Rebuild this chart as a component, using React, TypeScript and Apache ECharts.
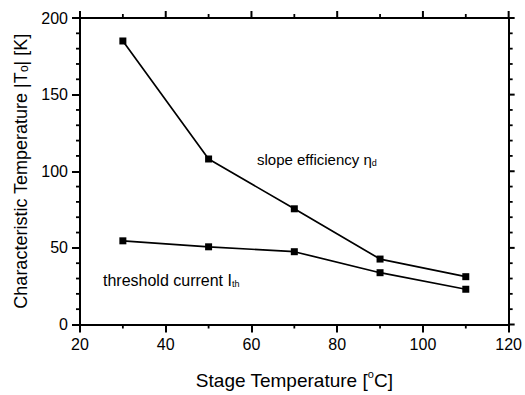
import React, { useEffect, useRef } from "react";
import * as echarts from "echarts";

const stageTemps = [30, 50, 70, 90, 110];
const slopeEfficiencyT0 = [185, 108, 75.5, 42.7, 31.2];
const thresholdCurrentT0 = [54.6, 50.7, 47.5, 33.8, 23];

const X_MIN = 20;
const X_MAX = 120;
const Y_MIN = 0;
const Y_MAX = 200;
const xMajorTicks = [20, 40, 60, 80, 100, 120];
const xMinorTicks = [30, 50, 70, 90, 110];
const yMajorTicks = [0, 50, 100, 150, 200];
const yMinorTicks = [10, 20, 30, 40, 60, 70, 80, 90, 110, 120, 130, 140, 160, 170, 180, 190];

const FONT = "'Liberation Sans', Arial, Helvetica, sans-serif";

export default function App() {
  const ref = useRef<HTMLDivElement>(null);
  useEffect(() => {
    if (!ref.current) return;
    const chart = echarts.init(ref.current, null, { renderer: "svg" });
    const axisLine = { show: true, onZero: false, lineStyle: { color: "#000", width: 2 } };
    const mk = (vals: number[]) => stageTemps.map((x, i) => [x, vals[i]]);
    const lineSeries = (name: string, vals: number[]) => ({
      name,
      type: "line",
      xAxisIndex: 0,
      yAxisIndex: 0,
      data: mk(vals),
      symbol: "rect",
      symbolSize: 7,
      lineStyle: { color: "#000", width: 1.7 },
      itemStyle: { color: "#000" },
      z: 5,
    });
    const annotations = [
      {
        type: "text",
        left: 257,
        top: 152,
        style: {
          text: "slope efficiency η{sub|d}",
          fill: "#000",
          font: `15px ${FONT}`,
          rich: {
            sub: { fontSize: 9, verticalAlign: "bottom", lineHeight: 9, fill: "#000", fontFamily: FONT },
          },
        },
      },
      {
        type: "text",
        left: 103,
        top: 272,
        style: {
          text: "threshold current I{sub|th}",
          fill: "#000",
          font: `16px ${FONT}`,
          rich: {
            sub: { fontSize: 9, verticalAlign: "bottom", lineHeight: 9, fill: "#000", fontFamily: FONT },
          },
        },
      },
    ];
    chart.setOption({
      animation: false,
      backgroundColor: "#fff",
      textStyle: { fontFamily: FONT },
      grid: { left: 80, right: 13, top: 18, bottom: 68.5 },
      xAxis: [
        {
          type: "value",
          position: "bottom",
          min: X_MIN,
          max: X_MAX,
          interval: 20,
          axisLine,
          axisTick: { show: true, length: 8, lineStyle: { color: "#000", width: 2 } },
          splitLine: { show: false },
          axisLabel: { color: "#000", fontSize: 16, margin: 12, fontFamily: FONT },
          name: "Stage Temperature [{sup|o}C]",
          nameLocation: "middle",
          nameGap: 44,
          nameTextStyle: {
            color: "#000",
            fontSize: 19,
            fontFamily: FONT,
            rich: {
              sup: { fontSize: 11, verticalAlign: "top", lineHeight: 24, fontFamily: FONT, color: "#000" },
            },
          },
        },
        {
          type: "value",
          position: "top",
          min: X_MIN,
          max: X_MAX,
          interval: 20,
          axisLine,
          axisTick: { show: false },
          splitLine: { show: false },
          axisLabel: { show: false },
        },
      ],
      yAxis: [
        {
          type: "value",
          position: "left",
          min: Y_MIN,
          max: Y_MAX,
          interval: 50,
          axisLine,
          axisTick: { show: true, length: 8, lineStyle: { color: "#000", width: 2 } },
          splitLine: { show: false },
          axisLabel: { color: "#000", fontSize: 16, margin: 12, fontFamily: FONT },
          name: "Characteristic Temperature |T{sub|o}| [K]",
          nameLocation: "middle",
          nameGap: 50,
          nameTextStyle: {
            color: "#000",
            fontSize: 18,
            fontFamily: FONT,
            rich: {
              sub: { fontSize: 12, verticalAlign: "bottom", lineHeight: 12, fontFamily: FONT, color: "#000" },
            },
          },
        },
        {
          type: "value",
          position: "right",
          min: Y_MIN,
          max: Y_MAX,
          interval: 50,
          axisLine,
          axisTick: { show: false },
          splitLine: { show: false },
          axisLabel: { show: false },
        },
      ],
      series: [
        lineSeries("slope efficiency", slopeEfficiencyT0),
        lineSeries("threshold current", thresholdCurrentT0),
      ],
      graphic: annotations,
    });

    const px = (x: number, y: number) =>
      chart.convertToPixel({ xAxisIndex: 0, yAxisIndex: 0 } as any, [x, y]) as number[];
    const seg = (x1: number, y1: number, x2: number, y2: number, w: number) => ({
      type: "line",
      shape: { x1, y1, x2, y2 },
      style: { stroke: "#000", lineWidth: w },
      silent: true,
      z: 100,
    });
    const ticks: any[] = [];
    const addX = (v: number, lenB: number, lenT: number, w: number) => {
      const b = px(v, Y_MIN);
      const t = px(v, Y_MAX);
      if (lenB > 0) ticks.push(seg(b[0], b[1], b[0], b[1] + lenB, w));
      ticks.push(seg(t[0], t[1], t[0], t[1] - lenT, w));
    };
    const addY = (v: number, lenL: number, lenR: number, w: number) => {
      const l = px(X_MIN, v);
      const r = px(X_MAX, v);
      if (lenL > 0) ticks.push(seg(l[0], l[1], l[0] - lenL, l[1], w));
      ticks.push(seg(r[0], r[1], r[0] + lenR, r[1], w));
    };
    xMajorTicks.forEach((v) => addX(v, 0, 7, 2));
    xMinorTicks.forEach((v) => addX(v, 4, 4, 1.8));
    yMajorTicks.forEach((v) => addY(v, 0, 6, 2));
    yMinorTicks.forEach((v) => addY(v, 4, 4, 1.8));
    chart.setOption({ graphic: [...annotations, ...ticks] });

    return () => chart.dispose();
  }, []);
  return <div ref={ref} style={{ width: 525, height: 395, position: "absolute", left: 0, top: 0 }} />;
}
